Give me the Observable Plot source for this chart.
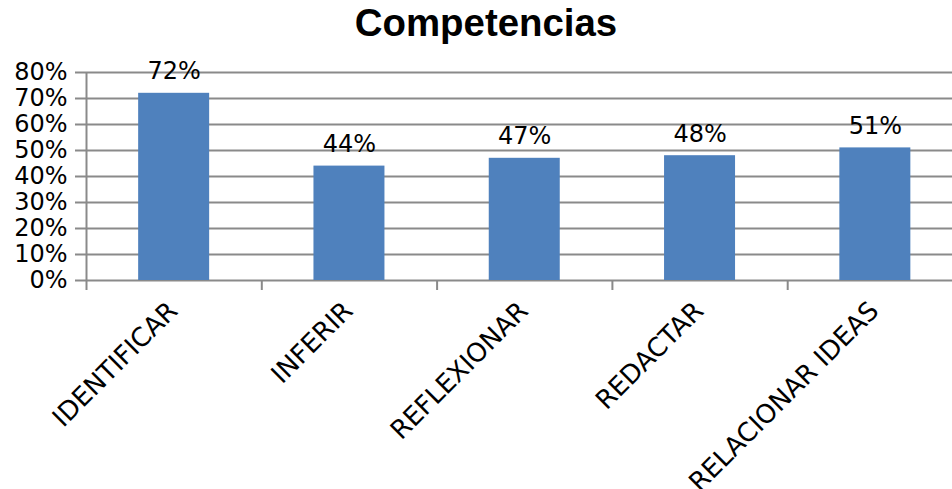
<!DOCTYPE html>
<html>
<head>
<meta charset="utf-8">
<script src="https://cdn.jsdelivr.net/npm/d3@7"></script>
<script src="https://cdn.jsdelivr.net/npm/@observablehq/plot@0.6"></script>
<style>
  html, body { margin: 0; padding: 0; background: #fff; overflow: hidden; width: 952px; height: 489px; }
  #title { width: 952px; height: 55px; line-height: 55px; padding-top: 1px; box-sizing: border-box;
           text-align: center; font: bold 38.4px "Liberation Sans", Arial, sans-serif; color: #000;
           position: relative; left: 10px; }
</style>
</head>
<body>
<div id="title">Competencias</div>
<div id="chart"></div>
<script>
const titleText = "Competencias";
const categories = ["IDENTIFICAR", "INFERIR", "REFLEXIONAR", "REDACTAR", "RELACIONAR IDEAS"];
const values = [0.72, 0.44, 0.47, 0.48, 0.51];
const yTicks = [0, 0.1, 0.2, 0.3, 0.4, 0.5, 0.6, 0.7, 0.8];

document.getElementById("title").textContent = titleText;

const n = categories.length;
const barFrac = 0.405;
const pct = d3.format(".0%");
const gridColor = "#8a8a8a";
const barColor = "#4F81BD";

const chart = Plot.plot({
  width: 952,
  height: 434,
  marginTop: 17,
  marginBottom: 209,
  marginLeft: 75,
  marginRight: 0,
  style: { fontFamily: "DejaVu Sans, sans-serif", fontSize: "24px", background: "#fff", color: "#000" },
  x: { type: "linear", domain: [0, n], range: [86, 962.5] },
  y: { domain: [0, 0.8], label: null },
  marks: [
    Plot.ruleY(yTicks, { y: d => d, stroke: gridColor, strokeWidth: 2 }),
    Plot.ruleX([0], { x: d => d, y1: 0, y2: 0.8, stroke: gridColor, strokeWidth: 2 }),
    Plot.axisX({ ticks: d3.range(0, n + 1), tickSize: 10, tickFormat: () => "", stroke: gridColor, strokeWidth: 2, label: null }),
    Plot.axisY({ ticks: yTicks, tickSize: 0, tickPadding: 8, tickFormat: pct, fontSize: 24, fill: "#000", label: null }),
    Plot.rectY(values, {
      x1: (d, i) => i + (1 - barFrac) / 2,
      x2: (d, i) => i + (1 + barFrac) / 2,
      y: d => d,
      fill: barColor
    }),
    Plot.text(values, {
      x: (d, i) => i + 0.5,
      y: d => d,
      text: d => pct(d),
      lineAnchor: "bottom",
      dy: -14,
      fontSize: 24,
      fill: "#000"
    }),
    Plot.text(categories, {
      x: (d, i) => i + 0.5,
      y: () => 0,
      text: d => d,
      rotate: -45,
      textAnchor: "end",
      dx: -1,
      dy: 26,
      fontSize: 26,
      fill: "#000"
    })
  ]
});
document.getElementById("chart").appendChild(chart);
</script>
</body>
</html>
